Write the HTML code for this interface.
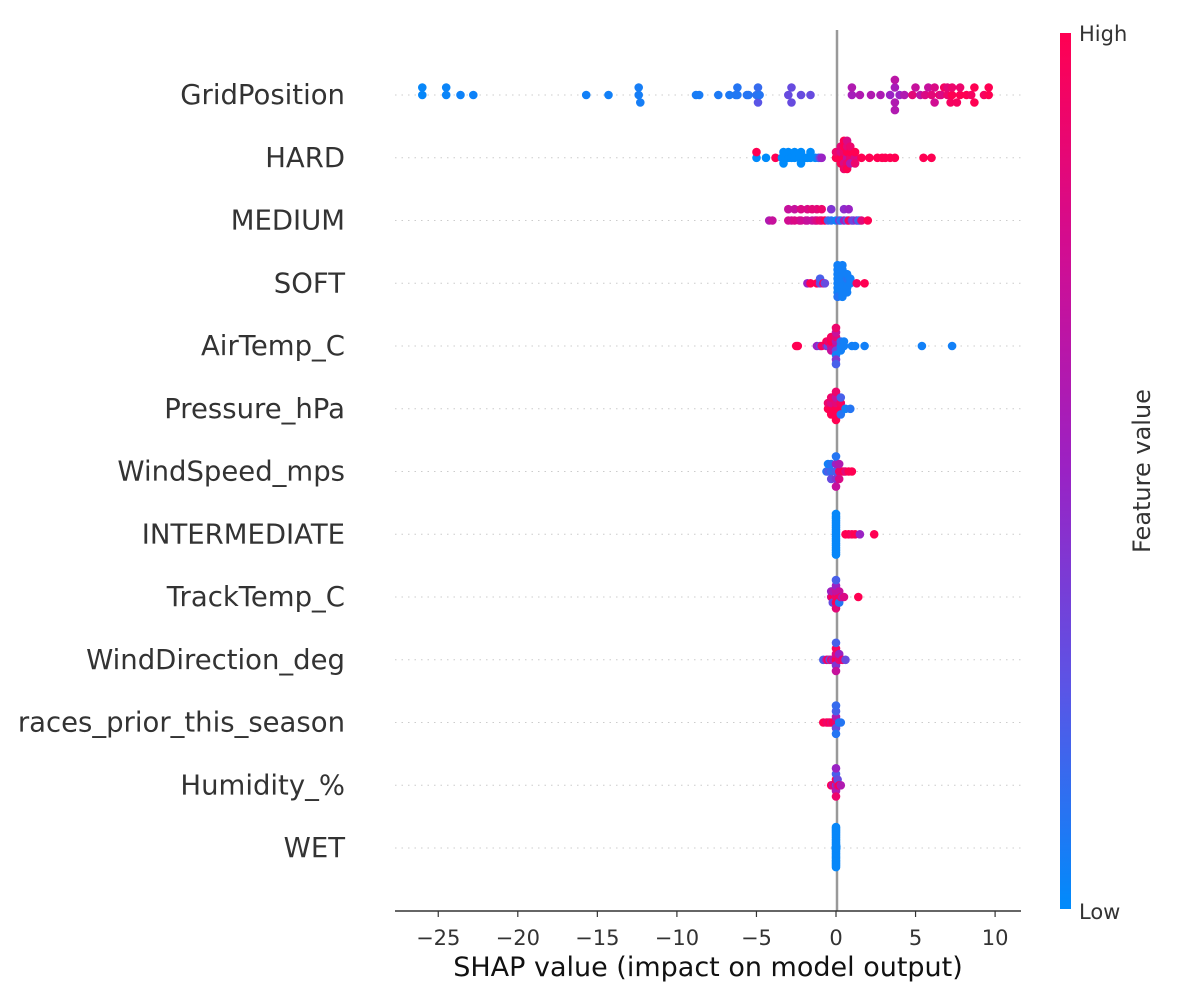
<!DOCTYPE html>
<html><head><meta charset="utf-8"><style>
body{margin:0;background:#fff;}
svg{display:block;font-family:"DejaVu Sans","Liberation Sans",sans-serif;}
</style></head><body>
<svg id="chart" width="1200" height="1005" viewBox="0 0 1200 1005">
<defs><linearGradient id="cb" x1="0" y1="1" x2="0" y2="0">
<stop offset="0" stop-color="#008bfb"/><stop offset="0.25" stop-color="#5a55e6"/><stop offset="0.5" stop-color="#9a22c4"/><stop offset="0.75" stop-color="#d10d92"/><stop offset="1" stop-color="#ff0052"/></linearGradient></defs>
<g id="grid"></g>
<line x1="837" y1="30" x2="837" y2="911" stroke="#999" stroke-width="2.5"/>
<g id="dots"></g>
<g id="ylabels"></g>
<line x1="395" y1="911" x2="1021" y2="911" stroke="#333" stroke-width="1.5"/>
<g id="xticks"></g>
<text x="708" y="976" font-size="27" fill="#111" text-anchor="middle">SHAP value (impact on model output)</text>
<rect x="1060" y="33" width="11" height="876" fill="url(#cb)"/>
<text x="1079" y="41" font-size="21" fill="#333">High</text>
<text x="1079" y="919" font-size="21" fill="#333">Low</text>
<text x="1150" y="471" font-size="24" fill="#333" text-anchor="middle" transform="rotate(-90 1150 471)">Feature value</text>
</svg>
<script>
const features = ["GridPosition","HARD","MEDIUM","SOFT","AirTemp_C","Pressure_hPa","WindSpeed_mps","INTERMEDIATE","TrackTemp_C","WindDirection_deg","races_prior_this_season","Humidity_%","WET"];
const xTicks = [-25,-20,-15,-10,-5,0,5,10];
const tickLabels = ["\u221225","\u221220","\u221215","\u221210","\u22125","0","5","10"];
// [shap value, normalized feature value]
const gridPosition = [[-26,0.02],[-26,0.02],[-24.5,0.03],[-24.5,0.03],[-23.6,0.04],[-22.8,0.04],[-15.7,0.05],[-14.3,0.05],[-12.4,0.06],[-12.4,0.06],[-12.3,0.06],[-8.8,0.07],[-8.6,0.07],[-7.4,0.08],[-6.7,0.08],[-6.3,0.09],[-6.2,0.09],[-6.2,0.1],[-5.6,0.1],[-5.5,0.1],[-5.0,0.12],[-4.9,0.15],[-4.9,0.25],[-4.8,0.1],[-3.0,0.3],[-2.8,0.3],[-2.8,0.3],[-2.2,0.3],[-1.6,0.3],[1.0,0.55],[1.0,0.6],[1.5,0.6],[2.2,0.6],[2.8,0.58],[3.4,0.5],[3.7,0.55],[3.7,0.6],[3.7,0.65],[3.7,0.6],[4.0,0.5],[4.3,0.6],[4.8,0.85],[5.0,0.7],[5.3,0.65],[5.6,0.8],[5.8,0.7],[6.0,0.85],[6.2,0.8],[6.2,0.75],[6.5,0.9],[6.6,0.8],[6.8,0.95],[7.0,0.9],[7.0,0.85],[7.2,0.95],[7.3,1],[7.3,0.9],[7.6,0.95],[7.8,1],[7.8,0.9],[8.2,1],[8.5,0.95],[8.7,1],[8.7,1],[9.3,0.95],[9.6,1],[9.6,1]];
const hard = [[-5.0,0],[-5.0,1],[-4.4,0],[-3.8,1],[-3.4,0],[-3.3,0],[-3.3,0],[-3.0,0],[-3.0,0],[-2.8,0],[-2.6,0],[-2.6,0],[-2.3,0],[-2.2,0],[-2.2,0],[-1.9,0],[-1.8,0],[-1.6,0],[-1.6,0],[-1.3,0],[-1.1,0.1],[-1.0,0.3],[-0.9,0.5],[0.0,1],[0.0,0.9],[0.3,1],[0.3,0.8],[0.3,1],[0.3,0.85],[0.5,1],[0.5,0.9],[0.5,0.8],[0.5,1],[0.5,0.9],[0.5,1],[0.7,0.7],[0.7,1],[0.7,0.9],[0.7,0.85],[0.7,1],[0.7,0.8],[0.9,0.9],[0.9,1],[0.9,0.6],[0.9,0.9],[1.2,0.8],[1.2,1],[1.2,0.9],[1.6,1],[2.1,1],[2.6,1],[2.9,1],[3.1,1],[3.4,1],[3.7,1],[5.5,1],[6.0,1]];
const medium = [[-4.2,0.6],[-4.0,0.7],[-3.0,0.75],[-3.0,0.7],[-2.8,0.75],[-2.6,0.8],[-2.6,0.7],[-2.3,0.8],[-2.2,0.75],[-2.2,0.8],[-1.9,0.75],[-1.8,0.7],[-1.8,0.8],[-1.5,0.7],[-1.5,0.85],[-1.3,0.75],[-1.2,0.8],[-1.2,0.85],[-1.0,0.9],[-0.9,0.85],[-0.9,0.9],[-0.7,1],[-0.5,0.2],[-0.3,0.1],[-0.3,0.4],[0.0,0.05],[0.2,0.4],[0.3,0.1],[0.5,0.5],[0.5,0.45],[0.7,0.2],[0.8,0.95],[0.8,0.5],[1.0,0.4],[1.1,0.3],[1.3,0.5],[1.4,0.2],[1.5,0.15],[1.6,0.85],[2.0,1]];
const soft = [[-1.8,0.5],[-1.6,1],[-1.2,1],[-1.0,0.3],[-1.0,0.2],[-0.8,0.9],[-0.7,0.3],[0.1,0.05],[0.1,0.05],[0.1,0.05],[0.1,0.05],[0.1,0.05],[0.1,0.05],[0.1,0.1],[0.1,0.05],[0.4,0.05],[0.4,0.05],[0.4,0.05],[0.4,0.05],[0.4,0.05],[0.4,0.05],[0.4,0.05],[0.4,0.05],[0.7,0.05],[0.7,0.1],[0.7,0.05],[0.7,0.05],[0.7,0.05],[0.9,0.05],[0.9,0.05],[1.3,0.95],[1.8,1]];
const airTemp = [[-2.5,1],[-2.4,1],[-1.2,0.5],[-1.0,0.3],[-0.9,0.95],[-0.6,0.6],[-0.6,1],[-0.5,0.3],[-0.5,0.9],[-0.3,0.8],[-0.3,1],[-0.3,0.7],[-0.3,0.95],[0.0,0.8],[0.0,0.6],[0.0,0.3],[0.0,0.85],[0.0,0.05],[0.0,0.7],[0.0,0.4],[0.0,0.9],[0.0,0.2],[0.3,0.05],[0.3,0.15],[0.3,0.05],[0.5,0.05],[0.5,0.05],[1.0,0.05],[1.2,0.05],[1.8,0.05],[5.4,0.05],[7.3,0.05]];
const pressure = [[-0.5,1],[-0.5,0.9],[-0.3,1],[-0.3,0.8],[-0.3,1],[-0.3,0.9],[0.0,1],[0.0,0.85],[0.0,1],[0.0,0.7],[0.0,1],[0.0,0.9],[0.3,1],[0.3,0.95],[0.3,0.1],[0.3,0.2],[0.6,0.05],[0.9,0.1]];
const windSpeed = [[-0.6,0.1],[-0.5,0.2],[-0.5,0.05],[-0.3,0.15],[-0.3,0.1],[-0.3,0.3],[0.0,0.2],[0.0,0.5],[0.0,0.4],[0.0,0.1],[0.0,0.7],[0.2,0.9],[0.2,0.6],[0.2,0.8],[0.4,0.9],[0.5,1],[0.6,0.85],[0.8,1],[1.0,1]];
const intermediate = [[0.0,0.02],[0.0,0.02],[0.0,0.02],[0.0,0.02],[0.0,0.02],[0.0,0.02],[0.0,0.02],[0.0,0.02],[0.0,0.02],[0.0,0.02],[0.0,0.02],[0.0,0.02],[0.0,0.02],[0.0,0.02],[0.0,0.02],[0.0,0.02],[0.0,0.02],[0.0,0.02],[0.0,0.02],[0.6,1],[0.8,1],[1.0,0.95],[1.2,1],[1.5,0.5],[2.4,1]];
const trackTemp = [[-0.3,0.8],[-0.3,0.5],[-0.2,1],[-0.2,0.6],[-0.2,0.3],[0.0,0.9],[0.0,0.7],[0.0,1],[0.0,0.5],[0.0,0.85],[0.0,0.2],[0.2,0.95],[0.2,0.7],[0.2,0.1],[0.3,0.9],[0.4,0.6],[0.5,0.8],[1.4,1]];
const windDir = [[-0.8,0.2],[-0.6,0.7],[-0.5,1],[-0.4,0.3],[-0.3,0.9],[-0.2,0.6],[0.0,1],[0.0,0.8],[0.0,0.4],[0.0,0.95],[0.0,0.7],[0.0,0.2],[0.2,0.85],[0.2,0.5],[0.4,0.9],[0.6,0.3]];
const racesPrior = [[-0.8,1],[-0.6,0.95],[-0.5,0.9],[-0.4,1],[-0.3,0.85],[-0.2,1],[0.0,0.9],[0.0,0.6],[0.0,0.3],[0.0,0.2],[0.0,0.1],[0.0,0.15],[0.2,0.05],[0.3,0.1]];
const humidity = [[-0.3,1],[-0.2,0.7],[-0.1,0.9],[0.0,0.4],[0.0,1],[0.0,0.6],[0.0,0.2],[0.0,0.9],[0.0,0.5],[0.1,0.8],[0.1,0.3],[0.2,1],[0.3,0.6]];
const wet = [[0.0,0.02],[0.0,0.02],[0.0,0.02],[0.0,0.02],[0.0,0.02],[0.0,0.02],[0.0,0.02],[0.0,0.02],[0.0,0.02],[0.0,0.02],[0.0,0.02],[0.0,0.02],[0.0,0.02],[0.0,0.02],[0.0,0.02],[0.0,0.02],[0.0,0.02],[0.0,0.02],[0.0,0.02],[0.0,0.02],[0.0,0.02],[0.0,0.02],[0.0,0.02],[0.0,0.02],[0.02,0.02],[0.02,0.02],[-0.02,0.02]];
const featureData = [gridPosition,hard,medium,soft,airTemp,pressure,windSpeed,intermediate,trackTemp,windDir,racesPrior,humidity,wet];

const NS="http://www.w3.org/2000/svg";
const x0=836, pxPerUnit=15.91, rowTop=95, rowStep=62.75;
function xScale(v){return x0+v*pxPerUnit;}
function yRow(i){return rowTop+i*rowStep;}
const stops=[[0,[0,139,251]],[0.25,[90,85,230]],[0.5,[154,34,196]],[0.75,[209,13,146]],[1,[255,0,82]]];
function color(t){t=Math.max(0,Math.min(1,t));for(let k=1;k<stops.length;k++){if(t<=stops[k][0]){const a=stops[k-1],b=stops[k],u=(t-a[0])/(b[0]-a[0]);const c=a[1].map((v,j)=>Math.round(v+(b[1][j]-v)*u));return `rgb(${c.join(',')})`;}}return 'rgb(255,0,82)';}
function mk(tag,attrs,parent){const e=document.createElementNS(NS,tag);for(const k in attrs)e.setAttribute(k,attrs[k]);parent.appendChild(e);return e;}

const grid=document.getElementById('grid'), dots=document.getElementById('dots'), yl=document.getElementById('ylabels'), xt=document.getElementById('xticks');
features.forEach((name,i)=>{
  const y=yRow(i);
  const g=mk('line',{x1:395,x2:1021,y1:y,y2:y,stroke:'#ccc','stroke-width':1,'stroke-dasharray':'1.5,5'},grid);
  
  
  const t=mk('text',{x:345,y:y+9,'font-size':'27.5','text-anchor':'end',fill:'#333'},yl);
  t.textContent=name;
  
  
  const d=featureData[i];
  const xs=d.map(p=>p[0]);
  const mn=Math.min(...xs), mx=Math.max(...xs);
  const nbins=100;
  const q=xs.map(v=>Math.round(nbins*(v-mn)/(mx-mn+1e-8)));
  const order=xs.map((v,k)=>k).sort((a,b)=>q[a]-q[b]||xs[a]-xs[b]);
  const ys=new Array(d.length).fill(0);
  let layer=0,last=-1;
  order.forEach(k=>{if(q[k]!==last){layer=0;last=q[k];}ys[k]=Math.ceil(layer/2)*((layer%2)*2-1);layer++;});
  const m=Math.max(...ys.map(Math.abs));
  const sc=0.9*(0.4/(m+1))*rowStep;
  d.forEach((p,k)=>{
    const c=mk('circle',{cx:xScale(p[0]).toFixed(1),cy:(y-ys[k]*sc).toFixed(1),r:4.3,fill:color(p[1])},dots);
    
    
  });
});
xTicks.forEach((v,k)=>{
  const x=xScale(v);
  const l=mk('line',{x1:x,x2:x,y1:911,y2:917,stroke:'#333','stroke-width':1.2},xt);
  
  
  const t=mk('text',{x:x,y:945,'font-size':'21','text-anchor':'middle',fill:'#333'},xt);
  t.textContent=tickLabels[k];
  
  
});
</script>
</body></html>
